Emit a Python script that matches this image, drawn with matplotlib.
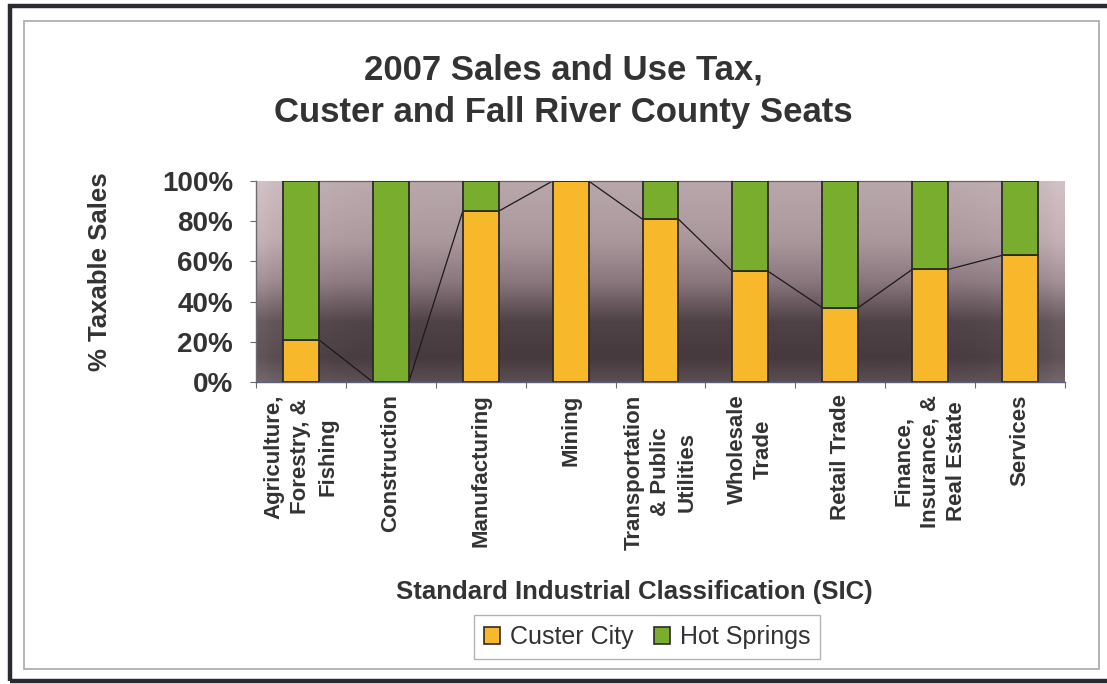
import matplotlib
matplotlib.use("Agg")
import matplotlib.pyplot as plt
import numpy as np
from matplotlib.patches import Rectangle, Patch
from matplotlib.colors import LinearSegmentedColormap

categories = [
    "Agriculture,\nForestry, &\nFishing",
    "Construction",
    "Manufacturing",
    "Mining",
    "Transportation\n& Public\nUtilities",
    "Wholesale\nTrade",
    "Retail Trade",
    "Finance,\nInsurance, &\nReal Estate",
    "Services",
]
custer_city = [21, 0, 85, 100, 81, 55, 37, 56, 63]
hot_springs = [79, 100, 15, 0, 19, 45, 63, 44, 37]
yticks = [0, 20, 40, 60, 80, 100]
ytick_labels = ["0%", "20%", "40%", "60%", "80%", "100%"]

plt.rcParams['font.family'] = ['Liberation Sans', 'DejaVu Sans']

W, H = 1107, 684
fig = plt.figure(figsize=(W / 100, H / 100), dpi=100)
fig.patch.set_facecolor("white")

def fx(px):
    return px / W

def fy(py):
    return 1 - py / H

# borders
fig.patches.append(Rectangle((fx(10), fy(681)), fx(1200) - fx(10), fy(6) - fy(681),
                             transform=fig.transFigure, fill=False,
                             edgecolor="#2a2a33", linewidth=3.2, zorder=0))
fig.patches.append(Rectangle((fx(24), fy(669)), fx(1099) - fx(24), fy(21) - fy(669),
                             transform=fig.transFigure, fill=False,
                             edgecolor="#a8a8a8", linewidth=1.2, zorder=0))

left, right, top, bottom = 256, 1065, 181, 382
ax = fig.add_axes([fx(left), fy(bottom), fx(right) - fx(left), fy(top) - fy(bottom)])

n = len(categories)
x = np.arange(n)
ax.set_xlim(-0.5, n - 0.5)
ax.set_ylim(0, 100)

# gradient background
cmap = LinearSegmentedColormap.from_list("bg", [
    (0.0, "#b9a8ab"), (0.3, "#aa979c"), (0.5, "#8a777e"),
    (0.7, "#4f4247"), (0.88, "#463a3f"), (1.0, "#5a4e53")])
grad = np.linspace(0, 1, 256).reshape(-1, 1)
horiz = np.linspace(-1, 1, 64)
edge_light = 0.10 * (np.abs(horiz) ** 8)
img = cmap(grad)[:, :, :3]
img = np.repeat(img, 64, axis=1)
img = np.clip(img + edge_light[None, :, None], 0, 1)
ax.imshow(img, extent=(-0.5, n - 0.5, 0, 100), aspect="auto", origin="upper", zorder=0)

bw = 0.4
edge = "#2e2a28"
ax.bar(x, custer_city, width=bw, color="#f8b82c", edgecolor=edge, linewidth=1.3,
       zorder=3, label="Custer City")
ax.bar(x, hot_springs, width=bw, bottom=custer_city, color="#79ad2e", edgecolor=edge,
       linewidth=1.3, zorder=3, label="Hot Springs")

# series lines
cum_top = [c + h for c, h in zip(custer_city, hot_springs)]
for i in range(n - 1):
    ax.plot([x[i] + bw / 2, x[i + 1] - bw / 2], [custer_city[i], custer_city[i + 1]],
            color="#1a1a1a", linewidth=0.9, zorder=2)
    ax.plot([x[i] + bw / 2, x[i + 1] - bw / 2], [cum_top[i], cum_top[i + 1]],
            color="#6a6266", linewidth=0.9, zorder=2, clip_on=False)

for s in ["top", "right"]:
    ax.spines[s].set_visible(False)
ax.spines["left"].set_color("#6a6a70")
ax.spines["bottom"].set_color("#5a6080")
ax.spines["left"].set_linewidth(1.0)
ax.spines["bottom"].set_linewidth(1.0)

ax.set_yticks(yticks)
ax.set_yticklabels(ytick_labels, fontsize=20, fontweight="bold", color="#333333")
ax.tick_params(axis="y", length=4.5, pad=12, color="#6a6a70")

ax.set_xticks(np.arange(n + 1) - 0.5, minor=False)
ax.set_xticklabels([])
ax.tick_params(axis="x", which="major", length=4, color="#6a6a70")
ax.set_xticks(x, minor=True)
ax.set_xticklabels(categories, minor=True, rotation=90, fontsize=16, fontweight="bold",
                   color="#333333", ha="center", va="top", multialignment="center",
                   linespacing=1.35)
ax.tick_params(axis="x", which="minor", length=0, pad=9)

fig.text(fx(563), fy(91), "2007 Sales and Use Tax,\nCuster and Fall River County Seats",
         ha="center", va="center", fontsize=25, fontweight="bold", color="#333333",
         linespacing=1.38)
fig.text(fx(100), fy(272), "% Taxable Sales", rotation=90, ha="center", va="center",
         fontsize=18.5, fontweight="bold", color="#333333")
fig.text(fx(634), fy(592), "Standard Industrial Classification (SIC)", ha="center",
         va="center", fontsize=18.5, fontweight="bold", color="#333333")

handles = [Patch(facecolor="#f8b82c", edgecolor=edge, linewidth=1.2),
           Patch(facecolor="#79ad2e", edgecolor=edge, linewidth=1.2)]
leg = fig.legend(handles, ["Custer City", "Hot Springs"], loc="center",
                 bbox_to_anchor=(fx(647), fy(637)), ncol=2, fontsize=18,
                 frameon=True, fancybox=False, handlelength=0.65, handleheight=0.65,
                 handletextpad=0.4, columnspacing=0.8, borderpad=0.4,
                 borderaxespad=0)
leg.get_frame().set_edgecolor("#a0a0a0")
leg.get_frame().set_linewidth(1.0)
for t in leg.get_texts():
    t.set_color("#333333")

fig.savefig("out.png", dpi=100)
